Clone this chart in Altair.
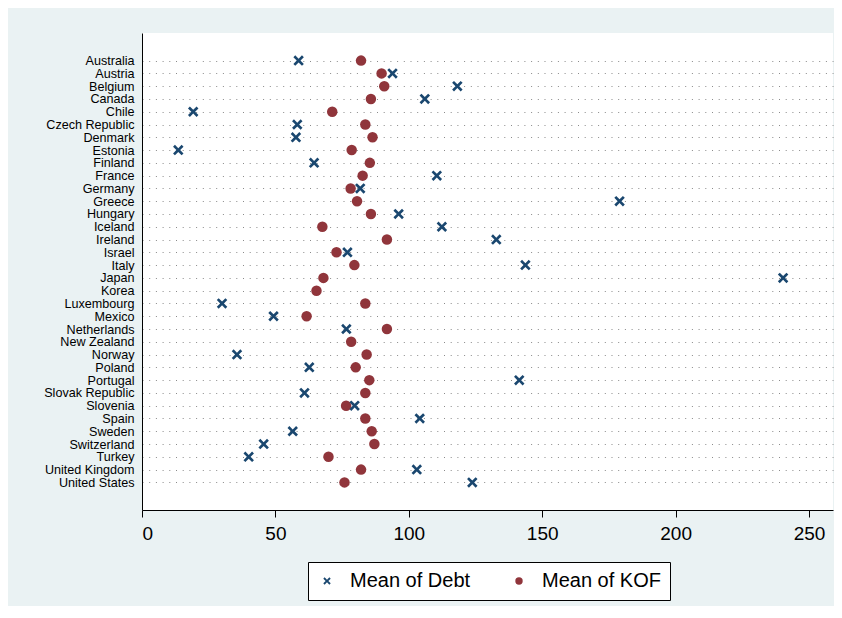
import altair as alt
import pandas as pd

countries = ["Australia", "Austria", "Belgium", "Canada", "Chile", "Czech Republic",
             "Denmark", "Estonia", "Finland", "France", "Germany", "Greece", "Hungary",
             "Iceland", "Ireland", "Israel", "Italy", "Japan", "Korea", "Luxembourg",
             "Mexico", "Netherlands", "New Zealand", "Norway", "Poland", "Portugal",
             "Slovak Republic", "Slovenia", "Spain", "Sweden", "Switzerland", "Turkey",
             "United Kingdom", "United States"]

debt = [58.7, 93.9, 118.2, 106.0, 19.2, 58.2, 57.7, 13.6, 64.5, 110.5, 81.8, 179.0,
        96.2, 112.4, 132.8, 77.0, 143.7, 240.3, None, 30.0, 49.3, 76.6, None, 35.6,
        62.7, 141.4, 60.9, 79.7, 104.1, 56.5, 45.6, 40.0, 103.0, 123.8]

kof = [82.1, 89.8, 90.8, 85.8, 71.3, 83.7, 86.4, 78.6, 85.4, 82.7, 78.2, 80.6,
       85.8, 67.6, 91.8, 72.9, 79.6, 68.0, 65.4, 83.7, 61.7, 91.8, 78.4, 84.2,
       80.1, 85.2, 83.7, 76.5, 83.7, 86.1, 87.1, 69.9, 82.1, 75.9]

series_names = ["Mean of Debt", "Mean of KOF"]
series_colors = ["#1a476f", "#90353b"]
x_ticks = [0, 50, 100, 150, 200, 250]

rows = []
for i, (c, v) in enumerate(zip(countries, kof)):
    if v is not None:
        rows.append({"country": c, "idx": i, "value": v, "series": "Mean of KOF"})
for i, (c, v) in enumerate(zip(countries, debt)):
    if v is not None:
        rows.append({"country": c, "idx": i, "value": v, "series": "Mean of Debt"})
df = pd.DataFrame(rows)

n = len(countries)
pad = 2.16
names_js = "[" + ",".join("'" + c + "'" for c in countries) + "]"

a = 0.36
xpath = (f"M-1,{-1+a}L{-1+a},-1L0,{-a}L{1-a},-1L1,{-1+a}L{a},0L1,{1-a}L{1-a},1"
         f"L0,{a}L{-1+a},1L-1,{1-a}L{-a},0Z")

chart = alt.Chart(df).mark_point(filled=True, opacity=1, size=110).encode(
    x=alt.X("value:Q",
            scale=alt.Scale(domain=[0, 259], nice=False, zero=True),
            axis=alt.Axis(values=x_ticks, title=None, grid=False, format="d",
                          labelFontSize=19, labelColor="black", tickColor="black",
                          tickSize=7, domainColor="black", labelPadding=7)),
    y=alt.Y("idx:Q",
            scale=alt.Scale(domain=[-pad, n - 1 + pad], reverse=True, nice=False, zero=False),
            axis=alt.Axis(title=None, ticks=False, grid=True, gridDash=[1, 5.7],
                          values=list(range(n)),
                          labelExpr=f"{names_js}[datum.value]",
                          gridColor="#8a8a8a", gridWidth=1, labelFontSize=12.6,
                          labelColor="black", domainColor="black", labelPadding=8)),
    color=alt.Color("series:N",
                    scale=alt.Scale(domain=series_names, range=series_colors),
                    legend=alt.Legend(title=None, orient="none", legendX=166, legendY=529,
                                      direction="horizontal", labelFontSize=20,
                                      labelColor="black", symbolSize=55,
                                      symbolStrokeWidth=0, labelOffset=13,
                                      columnPadding=38, padding=9,
                                      strokeColor="black", fillColor="white")),
    shape=alt.Shape("series:N",
                    scale=alt.Scale(domain=series_names, range=[xpath, "circle"]),
                    legend=None),
    tooltip=["country:N", "series:N", "value:Q"],
).properties(
    width=691,
    height=477,
    autosize=alt.AutoSizeParams(type="none"),
    padding={"left": 134, "top": 25, "right": 1, "bottom": 96},
    background="#EAF2F3",
).configure(
    font="Liberation Sans",
).configure_view(
    fill="white",
    stroke=None,
)

chart.save("out.html", embed_options={"renderer": "svg", "actions": False})
